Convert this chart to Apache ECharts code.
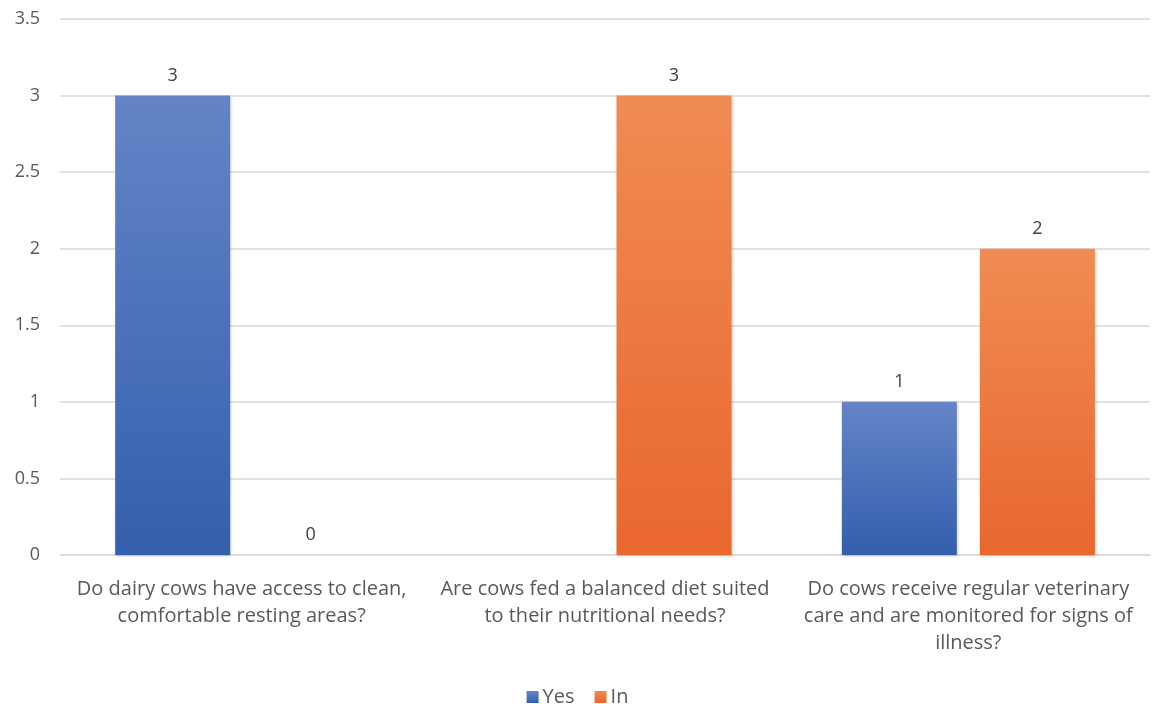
<!DOCTYPE html>
<html>
<head>
<meta charset="utf-8">
<script src="https://cdn.jsdelivr.net/npm/echarts@6/dist/echarts.min.js"></script>
<style>
  html, body { margin: 0; padding: 0; background: #ffffff; }
  #chart { width: 1155px; height: 704px; }
</style>
</head>
<body>
<div id="chart"></div>
<script>
// Survey questions on the category axis
const categories = [
  'Do dairy cows have access to clean,\ncomfortable resting areas?',
  'Are cows fed a balanced diet suited\nto their nutritional needs?',
  'Do cows receive regular veterinary\ncare and are monitored for signs of\nillness?'
];
// Response counts per answer
const yesValues = [3, null, 1];
const inValues = [0, 3, 2];
const seriesNames = ['Yes', 'In'];
const yTicks = { min: 0, max: 3.5, interval: 0.5 };

const FONT = 'Open Sans';

function grad(top, bottom) {
  return new echarts.graphic.LinearGradient(0, 0, 0, 1, [
    { offset: 0, color: top },
    { offset: 1, color: bottom }
  ]);
}

const labelStyle = {
  show: true,
  position: 'top',
  distance: 11,
  color: '#404040',
  fontSize: 18,
  fontFamily: FONT
};

const chart = echarts.init(document.getElementById('chart'), null, { renderer: 'canvas' });
chart.setOption({
  backgroundColor: '#ffffff',
  animation: false,
  textStyle: { fontFamily: FONT },
  grid: { left: 60, right: 5, top: 19, bottom: 149, containLabel: false },
  legend: {
    top: 682,
    left: 'center',
    itemWidth: 12,
    itemHeight: 12,
    itemGap: 20,
    icon: 'rect',
    textStyle: { color: '#595959', fontSize: 20, fontFamily: FONT, padding: [0, 0, 0, -1] },
    data: seriesNames
  },
  xAxis: {
    type: 'category',
    data: categories,
    axisLine: { show: true, lineStyle: { color: '#d9d9d9', width: 1.5 } },
    axisTick: { show: false },
    axisLabel: {
      interval: 0,
      margin: 21,
      color: '#595959',
      fontSize: 20,
      lineHeight: 27,
      fontFamily: FONT,
      align: 'center'
    }
  },
  yAxis: {
    type: 'value',
    min: yTicks.min,
    max: yTicks.max,
    interval: yTicks.interval,
    axisLine: { show: false },
    axisTick: { show: false },
    axisLabel: { color: '#595959', fontSize: 18, fontFamily: FONT, margin: 20 },
    splitLine: { lineStyle: { color: '#d9d9d9', width: 1.5 } }
  },
  series: [
    {
      name: seriesNames[0],
      type: 'bar',
      data: yesValues,
      barWidth: 115,
      barGap: '20%',
      itemStyle: {
        color: grad('#6484c6', '#345fad'),
        shadowColor: 'rgba(0,0,0,0.25)',
        shadowBlur: 3,
        shadowOffsetX: 1,
        shadowOffsetY: 1
      },
      label: labelStyle
    },
    {
      name: seriesNames[1],
      type: 'bar',
      data: inValues,
      barWidth: 115,
      barGap: '20%',
      itemStyle: {
        color: grad('#f08c52', '#e8672f'),
        shadowColor: 'rgba(0,0,0,0.25)',
        shadowBlur: 3,
        shadowOffsetX: 1,
        shadowOffsetY: 1
      },
      label: labelStyle
    }
  ]
});
</script>
</body>
</html>
